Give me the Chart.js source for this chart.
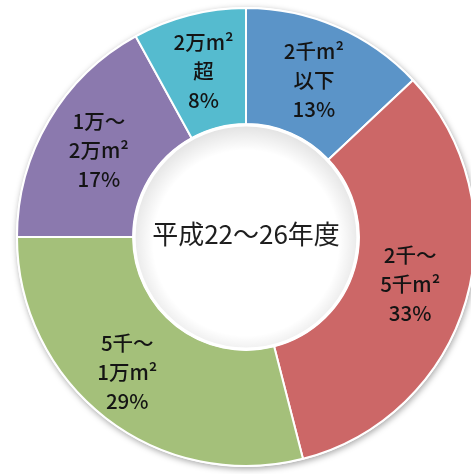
<!DOCTYPE html>
<html lang="ja">
<head>
<meta charset="utf-8">
<script src="https://cdn.jsdelivr.net/npm/chart.js@4/dist/chart.umd.min.js"></script>
<style>
  html, body { margin: 0; padding: 0; background: #ffffff; overflow: hidden; }
  #wrap { position: relative; width: 471px; height: 474px; overflow: hidden; }
  canvas { display: block; }
</style>
</head>
<body>
<div id="wrap"><canvas id="chart" width="482" height="474"></canvas></div>
<script>
// Floor-area classes (two text lines each) and their share of the total, in %
const categories = [
  ['2千m²', '以下'],
  ['2千～', '5千m²'],
  ['5千～', '1万m²'],
  ['1万～', '2万m²'],
  ['2万m²', '超']
];
const shares = [13, 33, 29, 17, 8];
const centerTitle = '平成22～26年度';

const sliceColors = ['#5b94c8', '#cc6767', '#a4c07a', '#8b79ae', '#55bbcf'];
const FONT = '"Noto Sans CJK JP", "Noto Sans", sans-serif';

// Soft drop shadow under the whole ring
const ringShadow = {
  id: 'ringShadow',
  beforeDatasetsDraw(chart) {
    const arc = chart.getDatasetMeta(0).data[0];
    if (!arc) return;
    const { x, y, outerRadius } = arc.getProps(['x', 'y', 'outerRadius'], true);
    const ctx = chart.ctx;
    ctx.save();
    ctx.shadowColor = 'rgba(0,0,0,0.35)';
    ctx.shadowBlur = 6;
    ctx.shadowOffsetX = 1;
    ctx.shadowOffsetY = 2;
    ctx.fillStyle = '#ffffff';
    ctx.beginPath();
    ctx.arc(x, y, outerRadius + 1, 0, Math.PI * 2);
    ctx.fill();
    ctx.restore();
  }
};

// Inner hole: faint inset shade, then the period title in the middle
const centerHole = {
  id: 'centerHole',
  afterDatasetsDraw(chart) {
    const arc = chart.getDatasetMeta(0).data[0];
    if (!arc) return;
    const { x, y, innerRadius } = arc.getProps(['x', 'y', 'innerRadius'], true);
    const ctx = chart.ctx;
    ctx.save();
    ctx.beginPath();
    ctx.arc(x, y, innerRadius - 1, 0, Math.PI * 2);
    ctx.clip();
    const g = ctx.createRadialGradient(x, y + 6, innerRadius * 0.82, x, y + 6, innerRadius + 4);
    g.addColorStop(0, 'rgba(0,0,0,0)');
    g.addColorStop(1, 'rgba(0,0,0,0.11)');
    ctx.fillStyle = g;
    ctx.fillRect(x - innerRadius, y - innerRadius, innerRadius * 2, innerRadius * 2);
    ctx.restore();

    ctx.save();
    ctx.strokeStyle = '#ffffff';
    ctx.lineWidth = 3;
    ctx.beginPath();
    ctx.arc(x, y, innerRadius - 1, 0, Math.PI * 2);
    ctx.stroke();

    ctx.fillStyle = '#1e1e1e';
    ctx.font = '400 26px ' + FONT;
    ctx.textAlign = 'center';
    ctx.textBaseline = 'middle';
    ctx.fillText(centerTitle, x, y - 3);
    ctx.restore();
  }
};

// Category name and share written at the middle of each slice
const sliceLabels = {
  id: 'sliceLabels',
  afterDatasetsDraw(chart, args, opts) {
    const meta = chart.getDatasetMeta(0);
    const ctx = chart.ctx;
    const lineH = 29;
    const shift = opts.shiftX || [];
    ctx.save();
    ctx.fillStyle = '#141414';
    ctx.font = '500 20.5px ' + FONT;
    ctx.textAlign = 'center';
    ctx.textBaseline = 'middle';
    meta.data.forEach((arc, i) => {
      const p = arc.getProps(['x', 'y', 'startAngle', 'endAngle', 'innerRadius', 'outerRadius'], true);
      const mid = (p.startAngle + p.endAngle) / 2;
      const r = (p.innerRadius + p.outerRadius) / 2;
      const cx = p.x + Math.cos(mid) * r + (shift[i] || 0);
      const cy = p.y + Math.sin(mid) * r;
      const lines = [...categories[i], shares[i] + '%'];
      lines.forEach((t, k) => {
        ctx.fillText(t, cx, cy + (k - 1) * lineH);
      });
    });
    ctx.restore();
  }
};

new Chart(document.getElementById('chart'), {
  type: 'doughnut',
  data: {
    labels: categories.map(c => c.join('')),
    datasets: [{
      data: shares,
      backgroundColor: sliceColors,
      borderColor: '#ffffff',
      borderWidth: 2,
      hoverBorderWidth: 2,
      hoverOffset: 0,
      offset: 0
    }]
  },
  options: {
    responsive: false,
    animation: false,
    events: [],
    cutout: '49.3%',
    layout: { padding: { left: 16, right: 6, top: 7, bottom: 7 } },
    plugins: {
      legend: { display: false },
      tooltip: { enabled: false },
      title: { display: false },
      sliceLabels: { shiftX: [0, 0, -14, 0, 0] }
    }
  },
  plugins: [ringShadow, centerHole, sliceLabels]
});
</script>
</body>
</html>
